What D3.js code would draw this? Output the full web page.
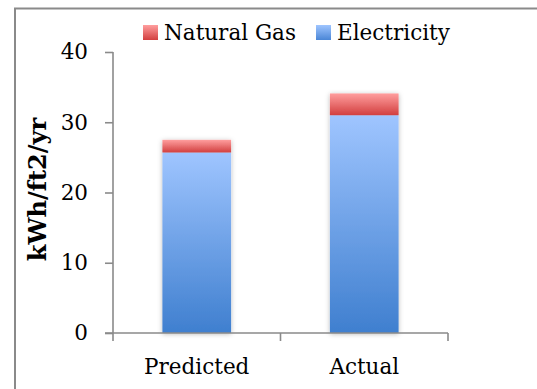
<!DOCTYPE html>
<html>
<head>
<meta charset="utf-8">
<script src="https://cdn.jsdelivr.net/npm/d3@7"></script>
<style>
  html, body { margin: 0; padding: 0; background: #fff; }
  svg { display: block; }
  text { font-family: "DejaVu Serif", "Liberation Serif", serif; fill: #000; }
</style>
</head>
<body>
<svg id="chart" width="537" height="389"></svg>
<script>
// Energy use intensity, predicted vs actual
const categories = ["Predicted", "Actual"];
const electricity = [25.7, 31.0];
const naturalGas = [1.8, 3.1];
const yTicks = [0, 10, 20, 30, 40];
const seriesNames = ["Natural Gas", "Electricity"];

const svg = d3.select("#chart");
const W = 537, H = 389;
const plot = { left: 113, right: 448, top: 52, bottom: 333 };
const FONT = 21.5;

const defs = svg.append("defs");
function vgrad(id, top, bottom) {
  const g = defs.append("linearGradient").attr("id", id)
    .attr("x1", 0).attr("y1", 0).attr("x2", 0).attr("y2", 1);
  g.append("stop").attr("offset", "0%").attr("stop-color", top);
  g.append("stop").attr("offset", "100%").attr("stop-color", bottom);
}
vgrad("gElec", "#9fc5ff", "#3f7fcf");
vgrad("gGas", "#ff9e9e", "#d23f3f");
vgrad("gElecKey", "#9fc5ff", "#4a86d6");
vgrad("gGasKey", "#ff9e9e", "#d23f3f");

const shadow = defs.append("filter").attr("id", "shadow")
  .attr("x", "-20%").attr("y", "-20%").attr("width", "140%").attr("height", "140%");
shadow.append("feDropShadow").attr("dx", 0).attr("dy", 1).attr("stdDeviation", 2.5)
  .attr("flood-color", "#000").attr("flood-opacity", 0.28);
const lineShadow = defs.append("filter").attr("id", "lineShadow")
  .attr("x", "-5%").attr("y", "-200%").attr("width", "110%").attr("height", "500%");
lineShadow.append("feDropShadow").attr("dx", 0).attr("dy", 1.5).attr("stdDeviation", 1)
  .attr("flood-color", "#000").attr("flood-opacity", 0.18);

// outer frame
svg.append("path")
  .attr("d", `M15,${H} L15,8.5 L${W},8.5`)
  .attr("fill", "none").attr("stroke", "#8a8a8a").attr("stroke-width", 2);

const x = d3.scaleBand().domain(categories).range([plot.left, plot.right])
  .paddingInner(0.59).paddingOuter(0.295);
const y = d3.scaleLinear().domain([0, 40]).range([plot.bottom, plot.top]);

// gridlines
svg.append("g").selectAll("line").data(yTicks.filter(d => d > 0)).join("line")
  .attr("x1", plot.left).attr("x2", plot.right)
  .attr("y1", d => y(d)).attr("y2", d => y(d))
  .attr("stroke", "#8a8a8a").attr("stroke-width", 1.6)
  .attr("filter", "url(#lineShadow)");

// y axis
const yAxis = svg.append("g").attr("transform", `translate(${plot.left},0)`)
  .call(d3.axisLeft(y).tickValues(yTicks).tickSize(8).tickPadding(17));
yAxis.select(".domain").attr("stroke", "#8a8a8a").attr("stroke-width", 1.6)
  .attr("d", `M0,${plot.top}V${plot.bottom}`);
yAxis.selectAll(".tick line").attr("stroke", "#8a8a8a").attr("stroke-width", 1.6);
yAxis.selectAll(".tick text").attr("font-size", FONT)
  .style("font-family", "'DejaVu Serif', serif").attr("fill", "#000");

// bars
const stacks = categories.map((c, i) => ({
  cat: c,
  segs: [
    { name: "Electricity", y0: 0, y1: electricity[i], fill: "url(#gElec)" },
    { name: "Natural Gas", y0: electricity[i], y1: electricity[i] + naturalGas[i], fill: "url(#gGas)" }
  ]
}));
const barG = svg.append("g");
const groups = barG.selectAll("g").data(stacks).join("g").attr("filter", "url(#shadow)");
groups.selectAll("rect").data(d => d.segs.map(s => ({ ...s, cat: d.cat }))).join("rect")
  .attr("x", d => x(d.cat)).attr("width", x.bandwidth())
  .attr("y", d => y(d.y1)).attr("height", d => y(d.y0) - y(d.y1))
  .attr("fill", d => d.fill);

// x axis with category boundary ticks
const xAxisG = svg.append("g").attr("transform", `translate(0,${plot.bottom})`);
xAxisG.append("line").attr("x1", plot.left - 8).attr("x2", plot.right)
  .attr("stroke", "#8a8a8a").attr("stroke-width", 1.6);
const boundaries = [plot.left, (x(categories[0]) + x.bandwidth() + x(categories[1])) / 2, plot.right];
xAxisG.selectAll("line.tk").data(boundaries).join("line").attr("class", "tk")
  .attr("x1", d => d).attr("x2", d => d)
  .attr("y1", 0).attr("y2", 8)
  .attr("stroke", "#8a8a8a").attr("stroke-width", 1.6);
xAxisG.selectAll("text").data(categories).join("text")
  .attr("x", d => x(d) + x.bandwidth() / 2).attr("y", 41)
  .attr("text-anchor", "middle").attr("font-size", FONT).text(d => d);

// y axis title
svg.append("text")
  .attr("transform", `translate(46,${(plot.top + plot.bottom) / 2 - 3}) rotate(-90)`)
  .attr("text-anchor", "middle").attr("font-size", 24).attr("font-weight", "bold")
  .text("kWh/ft2/yr");

// legend
const legend = [
  { name: seriesNames[0], fill: "url(#gGasKey)", x: 143 },
  { name: seriesNames[1], fill: "url(#gElecKey)", x: 316 }
];
const lg = svg.append("g").selectAll("g").data(legend).join("g")
  .attr("transform", d => `translate(${d.x},25)`);
lg.append("rect").attr("width", 15).attr("height", 15).attr("fill", d => d.fill);
lg.append("text").attr("x", 21).attr("y", 15).attr("font-size", FONT).text(d => d.name);
</script>
</body>
</html>
